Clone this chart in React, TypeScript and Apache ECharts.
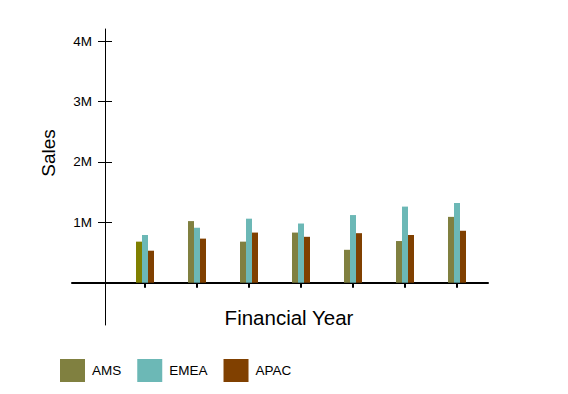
import React, { useEffect, useRef } from "react";
import * as echarts from "echarts";

const categories = ["FY1", "FY2", "FY3", "FY4", "FY5", "FY6", "FY7"];
const amsValues = [680000, 1020000, 680000, 830000, 545000, 690000, 1090000];
const emeaValues = [790000, 910000, 1060000, 980000, 1120000, 1260000, 1320000];
const apacValues = [530000, 730000, 830000, 760000, 820000, 790000, 860000];
const yTickValues = [1000000, 2000000, 3000000, 4000000];

const FONT = "'Liberation Sans', Arial, sans-serif";

export default function App() {
  const ref = useRef<HTMLDivElement>(null);
  useEffect(() => {
    if (!ref.current) return;
    const chart = echarts.init(ref.current, undefined, { renderer: "svg" });
    const toPairs = (vals: number[]) => vals.map((v, i) => [i, v]);
    const amsData = toPairs(amsValues).map((p, i) =>
      i === 0 ? { value: p, itemStyle: { color: "#808000" } } : { value: p }
    );
    const yCommon = {
      type: "value",
      min: -700000,
      max: 4200000,
      position: "left",
      offset: -33,
      splitLine: { show: false },
    };
    chart.setOption({
      animation: false,
      textStyle: { fontFamily: FONT },
      grid: { left: 72, right: 80, top: 29, bottom: 69 },
      xAxis: {
        type: "value",
        min: -1.404,
        max: 6.596,
        axisLine: { onZero: true, lineStyle: { color: "#000", width: 2 } },
        axisTick: { show: true, length: 5, lineStyle: { color: "#000", width: 2 }, customValues: categories.map((_, i) => i) },
        axisLabel: { show: false },
        splitLine: { show: false },
      },
      yAxis: [
        {
          ...yCommon,
          axisLine: { show: true, onZero: false, lineStyle: { color: "#000", width: 1 } },
          axisTick: { show: true, length: 7, lineStyle: { color: "#000" }, customValues: yTickValues },
          axisLabel: {
            show: true,
            margin: 13,
            color: "#000",
            fontSize: 13.5,
            fontFamily: FONT,
            customValues: yTickValues,
            formatter: (v: number) => v / 1000000 + "M",
          },
        },
        {
          ...yCommon,
          axisLine: { show: false, onZero: false },
          axisTick: { show: true, inside: true, length: 7, lineStyle: { color: "#000" }, customValues: yTickValues },
          axisLabel: { show: false },
        },
      ],
      legend: {
        left: 60,
        top: 359,
        padding: 0,
        icon: "rect",
        itemWidth: 25,
        itemHeight: 23,
        itemGap: 16,
        textStyle: { fontSize: 13.5, color: "#000", fontFamily: FONT, padding: [0, 0, 0, 2] },
        data: ["AMS", "EMEA", "APAC"],
      },
      graphic: [
        {
          type: "text",
          rotation: Math.PI / 2,
          x: 48,
          y: 153,
          style: { text: "Sales", fill: "#000", font: `19px ${FONT}`, align: "center", verticalAlign: "middle" },
        },
        {
          type: "text",
          x: 289,
          y: 317,
          style: { text: "Financial Year", font: `20.5px ${FONT}`, fill: "#000", align: "center", verticalAlign: "middle" },
        },
      ],
      series: [
        { name: "AMS", type: "bar", data: amsData, barWidth: 6, barGap: "0%", itemStyle: { color: "#808040" } },
        { name: "EMEA", type: "bar", data: toPairs(emeaValues), barWidth: 6, barGap: "0%", itemStyle: { color: "#6cb8b6" } },
        { name: "APAC", type: "bar", data: toPairs(apacValues), barWidth: 6, barGap: "0%", itemStyle: { color: "#804000" } },
      ],
    });
    return () => chart.dispose();
  }, []);
  return <div ref={ref} style={{ width: 568, height: 394, position: "absolute", left: 0, top: 0 }} />;
}
